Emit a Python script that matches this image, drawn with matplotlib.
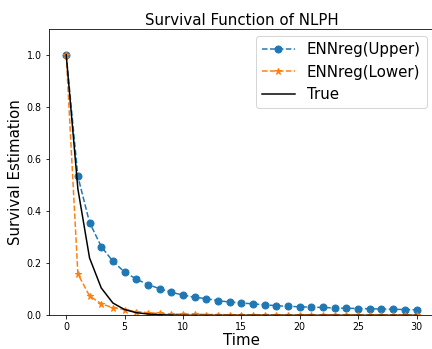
import matplotlib
matplotlib.use('Agg')
import matplotlib.pyplot as plt

time = list(range(31))
upper = [1.0, 0.533, 0.356, 0.264, 0.207, 0.166, 0.139, 0.118, 0.102, 0.088,
         0.078, 0.069, 0.064, 0.056, 0.051, 0.047, 0.044, 0.040, 0.037, 0.034,
         0.033, 0.031, 0.030, 0.028, 0.027, 0.026, 0.025, 0.024, 0.023, 0.022,
         0.021]
lower = [1.0, 0.159, 0.074, 0.044, 0.029, 0.022, 0.014, 0.010, 0.007, 0.005,
         0.004, 0.004, 0.003, 0.003, 0.002, 0.002, 0.002, 0.002, 0.001, 0.001,
         0.001, 0.001, 0.001, 0.001, 0.001, 0.001, 0.001, 0.001, 0.001, 0.001,
         0.001]
true_surv = [1.0, 0.485, 0.220, 0.105, 0.047, 0.022, 0.010, 0.005, 0.002, 0.001,
             0.0, 0.0, 0.0, 0.0, 0.0, 0.0, 0.0, 0.0, 0.0, 0.0,
             0.0, 0.0, 0.0, 0.0, 0.0, 0.0, 0.0, 0.0, 0.0, 0.0,
             0.0]

fig = plt.figure(figsize=(6.0, 349 / 72), dpi=72)
ax = fig.add_axes([0.1127, 0.0966, 0.892, 0.8212])
ax.plot(time, upper, '--o', color='tab:blue', markersize=7, label='ENNreg(Upper)')
ax.plot(time, lower, '--*', color='tab:orange', markersize=7, label='ENNreg(Lower)')
ax.plot(time, true_surv, '-', color='black', label='True')
ax.set_ylim(0, 1.1)
ax.set_xlim(-1.5, 31.5)
ax.tick_params(labelsize=9.5)
ax.set_xlabel('Time', fontsize=15, labelpad=1)
ax.set_ylabel('Survival Estimation', fontsize=15)
ax.set_title('Survival Function of NLPH', fontsize=15, pad=4)
ax.legend(fontsize=15, handlelength=2.2)
fig.savefig('out.png', dpi=72)
